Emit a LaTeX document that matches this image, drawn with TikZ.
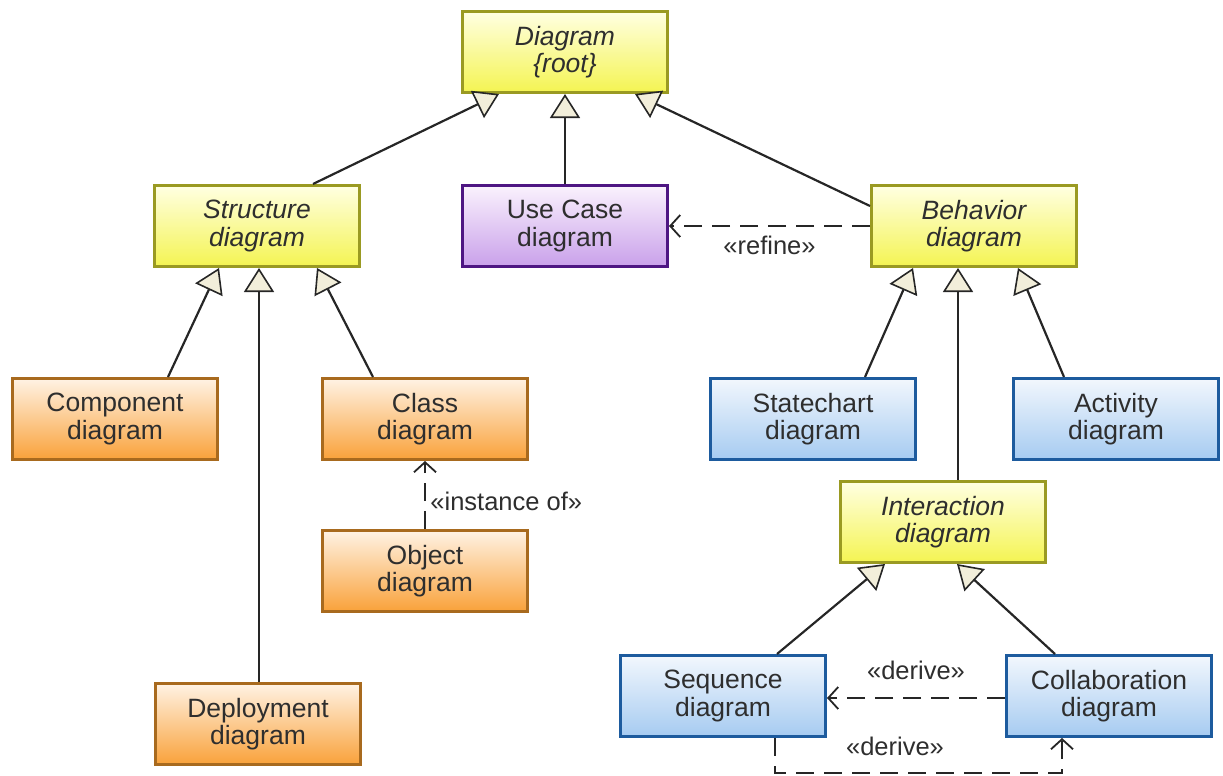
\documentclass[tikz,border=0pt]{standalone}
\usepackage{fontspec}
\setmainfont{Liberation Sans}
\usetikzlibrary{arrows.meta,calc}
\definecolor{txt}{HTML}{2E2E2E}
\definecolor{yborder}{HTML}{9A9A22}
\definecolor{ytop}{HTML}{FFFFE2}
\definecolor{ybot}{HTML}{F4F452}
\definecolor{oborder}{HTML}{A86A1E}
\definecolor{otop}{HTML}{FFF2E4}
\definecolor{obot}{HTML}{F9A23A}
\definecolor{pborder}{HTML}{4E1683}
\definecolor{ptop}{HTML}{FAF2FD}
\definecolor{pbot}{HTML}{C9A0EA}
\definecolor{bborder}{HTML}{1D5B9E}
\definecolor{btop}{HTML}{F2F7FD}
\definecolor{bbot}{HTML}{A6CBF1}
\definecolor{trifill}{HTML}{F2EEDA}
\tikzset{
  box/.style={rectangle, minimum width=205pt, minimum height=81pt, line width=3pt,
    align=center, text=txt, font=\fontsize{26.5}{27.5}\selectfont},
  yellowbox/.style={box, draw=yborder, top color=ytop, bottom color=ybot,
    font=\fontsize{26.5}{27.5}\selectfont\itshape},
  orangebox/.style={box, draw=oborder, top color=otop, bottom color=obot},
  purplebox/.style={box, draw=pborder, top color=ptop, bottom color=pbot},
  bluebox/.style={box, draw=bborder, top color=btop, bottom color=bbot},
  gen/.style={line width=2.2pt, draw=black!85,
    -{Triangle[length=24pt,width=30pt,fill=trifill,line width=1.6pt]}},
  dep/.style={line width=2.2pt, draw=black!85, dash pattern=on 18pt off 10pt,
    -{Straight Barb[length=10pt,width=22pt,line width=1.8pt]}},
  stereo/.style={text=txt, font=\fontsize{25.5}{28}\selectfont}
}
\begin{document}
\begin{tikzpicture}[x=1pt,y=-1pt]
\useasboundingbox (0,0) rectangle (1223,776);
% boxes
\node[yellowbox] (root)   at (565,52)  {Diagram\\\{root\}};
\node[yellowbox] (struct) at (257,226) {Structure\\diagram};
\node[purplebox] (usec)   at (565,226) {Use Case\\diagram};
\node[yellowbox] (behav)  at (974,226) {Behavior\\diagram};
\node[orangebox] (comp)   at (115,419) {Component\\diagram};
\node[orangebox] (class)  at (425,419) {Class\\diagram};
\node[orangebox] (object) at (425,571) {Object\\diagram};
\node[orangebox] (deploy) at (258,724) {Deployment\\diagram};
\node[bluebox]   (state)  at (813,419) {Statechart\\diagram};
\node[bluebox]   (activ)  at (1116,419) {Activity\\diagram};
\node[yellowbox] (inter)  at (943,522) {Interaction\\diagram};
\node[bluebox]   (seq)    at (723,696) {Sequence\\diagram};
\node[bluebox]   (collab) at (1109,696) {Collaboration\\diagram};
% generalisations
\draw[gen] ([xshift=56pt]struct.north) -- ([xshift=-66pt]root.south);
\draw[gen] (usec.north) -- (root.south);
\draw[gen] ([yshift=20pt]behav.west) -- ([xshift=70pt]root.south);
\draw[gen] ([xshift=53pt]comp.north) -- ([xshift=-38pt]struct.south);
\draw[gen] ([xshift=1pt]deploy.north) -- ([xshift=2pt]struct.south);
\draw[gen] ([xshift=-52pt]class.north) -- ([xshift=60pt]struct.south);
\draw[gen] ([xshift=52pt]state.north) -- ([xshift=-61pt]behav.south);
\draw[gen] ([xshift=15pt]inter.north) -- ([xshift=-16pt]behav.south);
\draw[gen] ([xshift=-52pt]activ.north) -- ([xshift=44pt]behav.south);
\draw[gen] ([xshift=54pt]seq.north) -- ([xshift=-58pt]inter.south);
\draw[gen] ([xshift=-54pt]collab.north) -- ([xshift=14pt]inter.south);
% dependencies
\draw[dep] (behav.west) -- node[stereo, below=6pt] {«refine»} (usec.east);
\draw[dep] (object.north) -- node[stereo, right=1pt, pos=0.4] {«instance of»} (class.south);
\draw[dep] ([yshift=-2pt]collab.west) -- node[stereo, above=14pt] {«derive»} ([yshift=-2pt]seq.east);
\coordinate (seqfoot) at ([xshift=52pt]seq.south);
\coordinate (colfoot) at ([xshift=-47pt]collab.south);
\draw[dep] (seqfoot) -- ++(0,35) -| (colfoot);
\node[stereo] (derivelbl) at (895,746) {«derive»};
\end{tikzpicture}
\end{document}
